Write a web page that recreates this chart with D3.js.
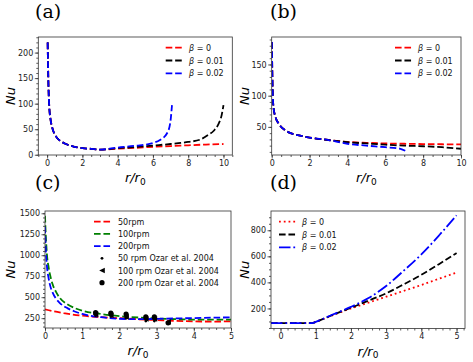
<!DOCTYPE html>
<html>
<head>
<meta charset="utf-8">
<script src="https://cdn.jsdelivr.net/npm/d3@7"></script>
<style>
body { margin: 0; background: #fff; }
svg { display: block; font-family: "DejaVu Sans", sans-serif; }
</style>
</head>
<body>
<svg width="473" height="362"></svg>
<script>
// ---- panel (a) ----
var aR0 = [0.03, 0.05, 0.08, 0.12, 0.2, 0.3, 0.5, 0.75, 1, 1.5, 2, 2.5, 3, 4, 5, 6, 7, 8, 9, 10];
var aNu0 = [220, 180, 130, 95, 68, 52, 36, 27, 22, 16, 13, 11.5, 10, 12, 13.5, 15.5, 17, 18.5, 20, 21];
var aR1 = [0.03, 0.05, 0.08, 0.12, 0.2, 0.3, 0.5, 0.75, 1, 1.5, 2, 2.5, 3, 4, 5, 6, 7, 8, 8.7, 9.1, 9.45, 9.7, 9.9, 10];
var aNu1 = [220, 180, 130, 95, 68, 52, 36, 27, 22, 16, 13, 11.5, 10, 13, 15, 18, 21, 25, 30, 38, 47, 59, 78, 97];
var aR2 = [0.03, 0.05, 0.08, 0.12, 0.2, 0.3, 0.5, 0.75, 1, 1.5, 2, 2.5, 3, 4, 5, 6, 6.4, 6.8, 6.98, 7.08];
var aNu2 = [220, 180, 130, 95, 68, 52, 36, 27, 22, 16, 13, 11.5, 10, 14, 17.5, 23, 29, 42, 62, 97];

// ---- panel (b) ----
var bR0 = [0.01, 0.03, 0.06, 0.1, 0.2, 0.4, 0.7, 1, 1.5, 2, 3, 4, 5, 6, 7, 8, 9, 10];
var bNu0 = [186, 140, 100, 80, 66, 54, 45, 40, 36, 33, 29, 26, 24.5, 23.5, 23, 22.5, 22.2, 22];
var bR1 = [0.01, 0.03, 0.06, 0.1, 0.2, 0.4, 0.7, 1, 1.5, 2, 3, 4, 5, 6, 7, 8, 9, 10];
var bNu1 = [186, 140, 100, 80, 66, 54, 45, 40, 36, 33, 29, 25.5, 23.5, 21.5, 20, 19, 17.5, 15];
var bR2 = [0.01, 0.03, 0.06, 0.1, 0.2, 0.4, 0.7, 1, 1.5, 2, 3, 4, 5, 6, 6.8, 7.1];
var bNu2 = [186, 140, 100, 80, 66, 54, 45, 40, 36, 33, 29, 23, 20, 17.5, 15, 11];

// ---- panel (c) ----
var cR50 = [0, 0.25, 0.5, 1, 1.5, 2, 2.5, 3, 3.5, 4, 4.5, 5];
var cNu50 = [355, 330, 310, 280, 262, 250, 238, 228, 218, 212, 210, 212];
var cR100 = [0, 0.02, 0.05, 0.1, 0.15, 0.2, 0.3, 0.4, 0.6, 0.8, 1, 1.5, 2, 2.5, 3, 3.5, 4, 4.5, 5];
var cNu100 = [1470, 1250, 1020, 850, 740, 660, 560, 490, 415, 370, 338, 300, 275, 258, 246, 238, 233, 232, 232];
var cR200 = [0, 0.02, 0.05, 0.1, 0.15, 0.2, 0.3, 0.4, 0.6, 0.8, 1, 1.5, 2, 2.5, 3, 3.5, 4, 4.5, 5];
var cNu200 = [1340, 1080, 880, 720, 620, 560, 480, 430, 370, 330, 300, 262, 243, 238, 242, 247, 251, 256, 260];
var expR = [1.36, 1.77, 2.18, 2.71, 2.94, 3.31];
var exp50 = [280, 270, 250, 215, 215, 195];
var exp100 = [295, 285, 265, 240, 240, 205];
var exp200 = [315, 310, 300, 265, 265, 195];

// ---- panel (d) ----
var dR = [-0.27, 0, 0.5, 0.9, 1.0, 1.25, 1.5, 2, 2.5, 3, 3.5, 4, 4.5, 5];
var dNu0 = [88, 88, 88, 88, 97, 122, 150, 200, 245, 290, 335, 380, 428, 475];
var dNu1 = [88, 88, 88, 88, 97, 124, 152, 205, 260, 316, 385, 458, 540, 625];
var dNu2 = [88, 88, 88, 88, 97, 125, 155, 212, 280, 372, 490, 615, 760, 915];

var betaLabels = ["0", "0.01", "0.02"];

function zip(xs, ys) {
	return xs.map(function (v, i) { return { x: v, y: ys[i] }; });
}

var DASH = "6.6,2.85", DOT = "1.8,2.97", DASHDOT = "11.5,2.85,1.8,2.85";

var panels = [
	{
		tag: "(a)", tagX: 35, tagY: 17.5,
		left: 38.3, right: 232.3, top: 37, bottom: 155,
		xDom: [-0.5, 10.5], yDom: [-0.5, 230.5],
		xTicks: [0, 2, 4, 6, 8, 10], xMinor: 0.5,
		yTicks: [0, 50, 100, 150, 200], yMinor: 10,
		nuX: 15,
		series: [
			{ data: zip(aR0, aNu0), color: "#ff0000", dash: DASH, label: betaLabels[0] },
			{ data: zip(aR1, aNu1), color: "#000000", dash: DASH, label: betaLabels[1] },
			{ data: zip(aR2, aNu2), color: "#0000ff", dash: DASH, label: betaLabels[2] }
		],
		legend: { x: 165.7, y: 47.7, step: 12.8, textX: 189 }
	},
	{
		tag: "(b)", tagX: 270, tagY: 17.5,
		left: 271.7, right: 461, top: 37, bottom: 155,
		xDom: [0, 10], yDom: [5, 194],
		xTicks: [0, 2, 4, 6, 8, 10], xMinor: 0.5,
		yTicks: [50, 100, 150], yMinor: 10,
		nuX: 248.5,
		series: [
			{ data: zip(bR0, bNu0), color: "#ff0000", dash: DASH, label: betaLabels[0] },
			{ data: zip(bR1, bNu1), color: "#000000", dash: DASH, label: betaLabels[1] },
			{ data: zip(bR2, bNu2), color: "#0000ff", dash: DASH, label: betaLabels[2] }
		],
		legend: { x: 395, y: 47.7, step: 12.8, textX: 418 }
	},
	{
		tag: "(c)", tagX: 35, tagY: 188.5,
		left: 45, right: 231, top: 211, bottom: 328,
		xDom: [0, 5], yDom: [133, 1527],
		xTicks: [0, 1, 2, 3, 4, 5], xMinor: 0.2,
		yTicks: [250, 500, 750, 1000, 1250, 1500], yMinor: 50,
		nuX: 15,
		series: [
			{ data: zip(cR50, cNu50), color: "#ff0000", dash: DASH, text: "50rpm" },
			{ data: zip(cR100, cNu100), color: "#008000", dash: DASH, text: "100rpm" },
			{ data: zip(cR200, cNu200), color: "#0000ff", dash: DASH, text: "200rpm" }
		],
		points: [
			{ data: zip(expR, exp50), marker: "dot", text: "50 rpm Ozar et al. 2004" },
			{ data: zip(expR, exp100), marker: "tri", text: "100 rpm Ozar et al. 2004" },
			{ data: zip(expR, exp200), marker: "circle", text: "200 rpm Ozar et al. 2004" }
		],
		legend: { x: 94, y: 221.7, step: 12.2, textX: 118 }
	},
	{
		tag: "(d)", tagX: 270, tagY: 188.5,
		left: 271, right: 465, top: 211, bottom: 328.5,
		xDom: [-0.27, 5.24], yDom: [46, 948],
		xTicks: [0, 1, 2, 3, 4, 5], xMinor: 0.2,
		yTicks: [200, 400, 600, 800], yMinor: 50,
		nuX: 248.5,
		series: [
			{ data: zip(dR, dNu0), color: "#ff0000", dash: DOT, label: betaLabels[0] },
			{ data: zip(dR, dNu1), color: "#000000", dash: DASH, label: betaLabels[1] },
			{ data: zip(dR, dNu2), color: "#0000ff", dash: DASHDOT, label: betaLabels[2] }
		],
		legend: { x: 279, y: 221.7, step: 12.8, textX: 302 }
	}
];

function minorTicks(dom, step) {
	var out = [];
	var start = Math.ceil(dom[0] / step - 1e-9);
	for (var k = start; k * step <= dom[1] + 1e-9; k++) out.push(+(k * step).toFixed(6));
	return out;
}

function drawMarker(sel, kind, cx, cy) {
	if (kind === "dot") {
		sel.append("circle").attr("cx", cx).attr("cy", cy).attr("r", 1.4).attr("fill", "#000");
	} else if (kind === "circle") {
		sel.append("circle").attr("cx", cx).attr("cy", cy).attr("r", 2.6).attr("fill", "#000");
	} else {
		var s = 2.8;
		sel.append("path")
			.attr("d", "M" + (cx - s) + "," + cy + "L" + (cx + s) + "," + (cy - s) + "L" + (cx + s) + "," + (cy + s) + "Z")
			.attr("fill", "#000");
	}
}

function drawPanel(p, idx) {
	var svg = d3.select("svg");
	var x = d3.scaleLinear().domain(p.xDom).range([p.left, p.right]);
	var y = d3.scaleLinear().domain(p.yDom).range([p.bottom, p.top]);
	var g = svg.append("g");

	g.append("clipPath").attr("id", "clip" + idx)
		.append("rect")
		.attr("x", p.left).attr("y", p.top)
		.attr("width", p.right - p.left).attr("height", p.bottom - p.top);

	var line = d3.line()
		.x(function (d) { return x(d.x); })
		.y(function (d) { return y(d.y); })
		.curve(d3.curveMonotoneX);

	var plot = g.append("g").attr("clip-path", "url(#clip" + idx + ")");

	// curves
	p.series.forEach(function (s) {
		plot.append("path")
			.datum(s.data)
			.attr("fill", "none")
			.attr("stroke", s.color)
			.attr("stroke-width", 1.8)
			.attr("stroke-dasharray", s.dash)
			.attr("d", line);
	});

	// experiment points
	(p.points || []).forEach(function (s) {
		s.data.forEach(function (d) {
			drawMarker(plot, s.marker, x(d.x), y(d.y));
		});
	});

	// axes
	var xAx = g.append("g").attr("transform", "translate(0," + p.bottom + ")")
		.call(d3.axisBottom(x).tickValues(p.xTicks).tickSize(3.5).tickPadding(1.5).tickFormat(d3.format("d")));
	var xMin = g.append("g").attr("transform", "translate(0," + p.bottom + ")")
		.call(d3.axisBottom(x).tickValues(minorTicks(p.xDom, p.xMinor)).tickSize(2).tickFormat(""));
	var yAx = g.append("g").attr("transform", "translate(" + p.left + ",0)")
		.call(d3.axisLeft(y).tickValues(p.yTicks).tickSize(3.5).tickPadding(1.5).tickFormat(d3.format("d")));
	var yMin = g.append("g").attr("transform", "translate(" + p.left + ",0)")
		.call(d3.axisLeft(y).tickValues(minorTicks(p.yDom, p.yMinor)).tickSize(2).tickFormat(""));

	[xAx, xMin, yAx, yMin].forEach(function (a) {
		a.attr("font-family", null).attr("font-size", null);
		a.select(".domain").remove();
		a.selectAll("line").attr("stroke", "#333").attr("stroke-width", 0.8);
		a.selectAll("text").attr("font-size", 8).attr("fill", "#222");
	});

	// frame
	g.append("rect")
		.attr("x", p.left).attr("y", p.top)
		.attr("width", p.right - p.left).attr("height", p.bottom - p.top)
		.attr("fill", "none").attr("stroke", "#333").attr("stroke-width", 0.8);

	// labels
	g.append("text")
		.attr("x", p.tagX).attr("y", p.tagY)
		.style("font-family", "'DejaVu Serif', serif").attr("font-size", 19)
		.text(p.tag);

	g.append("text")
		.attr("transform", "translate(" + p.nuX + "," + ((p.top + p.bottom) / 2) + ") rotate(-90)")
		.attr("text-anchor", "middle")
		.attr("font-size", 13).attr("font-style", "italic")
		.text("Nu");

	var xl = g.append("text")
		.attr("x", (p.left + p.right) / 2).attr("y", p.bottom + 27)
		.attr("text-anchor", "middle")
		.attr("font-size", 13).attr("font-style", "italic");
	xl.append("tspan").text("r/r");
	xl.append("tspan").attr("font-size", 9).attr("font-style", "normal").attr("dy", 2.5).text("0");

	// legend
	var lg = p.legend, row = 0;
	p.series.forEach(function (s) {
		var ly = lg.y + row * lg.step;
		g.append("line")
			.attr("x1", lg.x).attr("x2", lg.x + 16.5)
			.attr("y1", ly).attr("y2", ly)
			.attr("stroke", s.color).attr("stroke-width", 1.8)
			.attr("stroke-dasharray", s.dash);
		var t = g.append("text").attr("x", lg.textX).attr("y", ly + 3).attr("font-size", 8).attr("fill", "#111");
		if (s.label !== undefined) {
			t.append("tspan").attr("font-style", "italic").text("β");
			t.append("tspan").text(" = " + s.label);
		} else {
			t.text(s.text);
		}
		row++;
	});
	(p.points || []).forEach(function (s) {
		var ly = lg.y + row * lg.step;
		drawMarker(g, s.marker, lg.x + 8, ly);
		g.append("text").attr("x", lg.textX).attr("y", ly + 3).attr("font-size", 8).attr("fill", "#111")
			.text(s.text);
		row++;
	});
}

panels.forEach(drawPanel);
</script>
</body>
</html>
